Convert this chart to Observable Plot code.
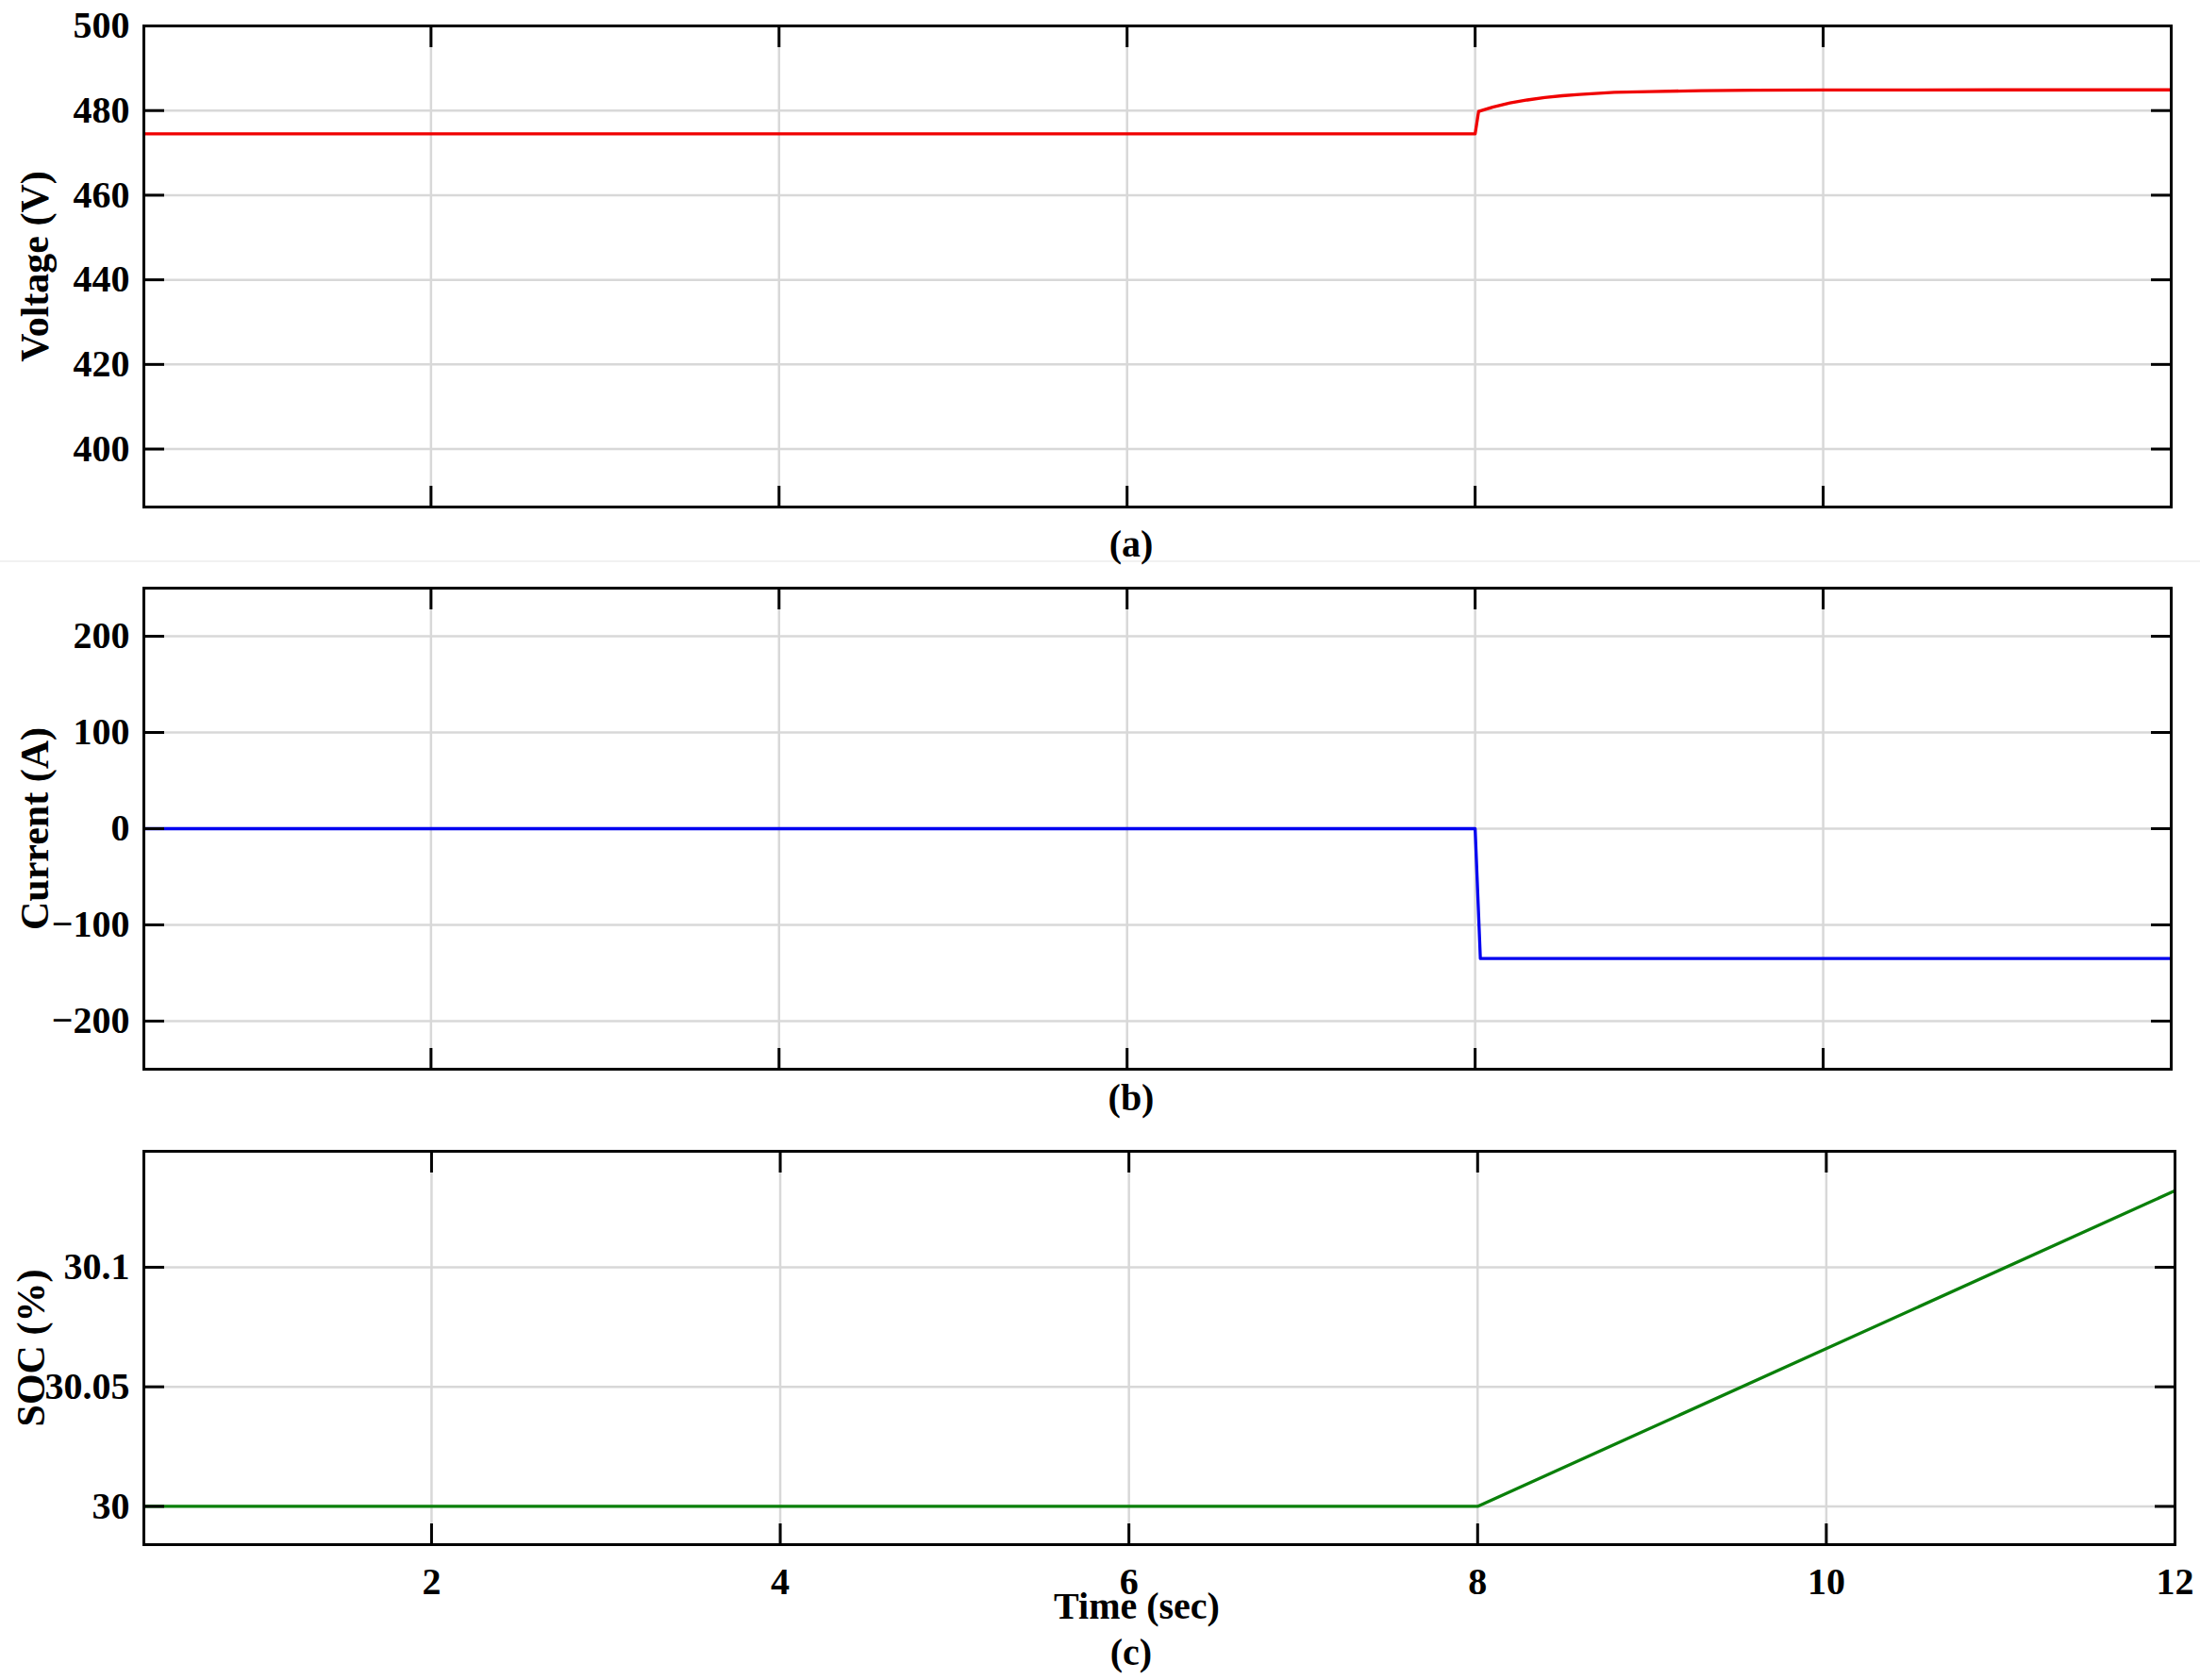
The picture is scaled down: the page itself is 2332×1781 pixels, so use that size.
<!DOCTYPE html>
<html>
<head>
<meta charset="utf-8">
<script src="https://cdn.jsdelivr.net/npm/d3@7"></script>
<script src="https://cdn.jsdelivr.net/npm/@observablehq/plot@0.6"></script>
<style>
  html, body { margin: 0; padding: 0; background: #fff; }
  #wrap { position: relative; width: 2332px; height: 1781px; overflow: hidden;
          font-family: "Liberation Serif", "Times New Roman", serif; font-weight: bold; color: #000; }
  .panel { position: absolute; left: 0; }
  .cap { position: absolute; transform: translate(-50%, -50%); font-size: 40px; white-space: nowrap; line-height: 1; }
  .sep { position: absolute; left: 0; width: 2332px; height: 2px; background: #f1f1f1; }
</style>
</head>
<body>
<div id="wrap"></div>
<script>
// ---- data ----
const xDomain = [0.35, 12];
const xTicks = [2, 4, 6, 8, 10, 12];

// (a) Voltage
const voltTime = [0.35, 7.99, 8.0, 8.02, 8.1, 8.2, 8.3, 8.4, 8.5, 8.6, 8.8, 9.0, 9.3, 9.6, 10.0, 11.0, 12.0];
const voltValue = [474.5, 474.5, 474.5, 479.8, 480.8, 481.8, 482.5, 483.1, 483.5, 483.8, 484.3, 484.5, 484.7, 484.8, 484.85, 484.9, 484.9];
const voltTicks = [400, 420, 440, 460, 480, 500];
const voltDomain = [386.3, 500];

// (b) Current
const currTime = [0.35, 8.0, 8.03, 12.0];
const currValue = [0, 0, -135, -135];
const currTicks = [-200, -100, 0, 100, 200];
const currDomain = [-250, 250];

// (c) SOC
const socTime = [0.35, 8.0, 12.0];
const socValue = [30, 30, 30.132];
const socTicks = [30, 30.05, 30.1];
const socDomain = [29.984, 30.1485];

const fmt = d => d < 0 ? "\u2212" + Math.abs(d) : String(d);

function panel({time, value, color, yDomain, yTicks, yLabel, labelDx, height, top, mt, mb, mr, xLabels}) {
  const data = time.map((t, i) => ({t, v: value[i]}));
  const tickStyle = {stroke: "black", strokeWidth: 3, fill: "none", label: null, tickSize: 22};
  const marks = [
    Plot.gridX(xTicks, {stroke: "#d8d8d8", strokeOpacity: 1, strokeWidth: 2.5}),
    Plot.gridY(yTicks, {stroke: "#d8d8d8", strokeOpacity: 1, strokeWidth: 2.5}),
    Plot.line(data, {x: "t", y: "v", stroke: color, strokeWidth: 3.3, clip: true}),
    Plot.axisY(yTicks, {...tickStyle, anchor: "left", dx: 22}),
    Plot.axisY(yTicks, {...tickStyle, anchor: "right", dx: -22}),
    Plot.axisX(xTicks, {...tickStyle, anchor: "top", dy: 22}),
    Plot.axisX(xTicks, {...tickStyle, anchor: "bottom", dy: -22}),
    Plot.axisY(yTicks, {anchor: "left", tickSize: 0, tickPadding: 15, label: null, tickFormat: fmt,
                        fontSize: 40, fontWeight: "bold", fill: "black"}),
    Plot.frame({stroke: "black", strokeWidth: 3}),
    Plot.text([yLabel], {text: d => d, frameAnchor: "left", dx: labelDx, rotate: -90, textAnchor: "middle",
                         lineAnchor: "middle", fontSize: 42, fontWeight: "bold", fill: "black"})
  ];
  if (xLabels) {
    marks.push(Plot.axisX(xTicks, {anchor: "bottom", tickSize: 0, tickPadding: 24, label: null, tickFormat: fmt,
                                   fontSize: 40, fontWeight: "bold", fill: "black"}));
  }
  const svg = Plot.plot({
    width: 2332, height,
    marginLeft: 152, marginRight: mr, marginTop: mt, marginBottom: mb,
    x: {domain: xDomain, axis: null},
    y: {domain: yDomain, axis: null},
    style: {fontFamily: "'Liberation Serif', 'Times New Roman', serif", fontSize: "40px", fontWeight: "bold", background: "white", color: "black", overflow: "visible"},
    marks
  });
  svg.classList.add("panel");
  svg.style.top = top + "px";
  return svg;
}

const wrap = document.getElementById("wrap");
wrap.appendChild(panel({time: voltTime, value: voltValue, color: "#f00000", yDomain: voltDomain, yTicks: voltTicks,
  yLabel: "Voltage (V)", labelDx: -115, height: 560, top: 0, mt: 27, mb: 23, mr: 31, xLabels: false}));
wrap.appendChild(panel({time: currTime, value: currValue, color: "#0000f0", yDomain: currDomain, yTicks: currTicks,
  yLabel: "Current (A)", labelDx: -115, height: 550, top: 600, mt: 23, mb: 17, mr: 31, xLabels: false}));
wrap.appendChild(panel({time: socTime, value: socValue, color: "#0a800a", yDomain: socDomain, yTicks: socTicks,
  yLabel: "SOC (%)", labelDx: -119, height: 581, top: 1200, mt: 20, mb: 144, mr: 27, xLabels: true}));

const sep = document.createElement("div");
sep.className = "sep"; sep.style.top = "594px";
wrap.appendChild(sep);

const captions = [
  {text: "(a)", x: 1199, y: 577},
  {text: "(b)", x: 1199, y: 1164},
  {text: "Time (sec)", x: 1205, y: 1703},
  {text: "(c)", x: 1199, y: 1752}
];
for (const c of captions) {
  const d = document.createElement("div");
  d.className = "cap";
  d.textContent = c.text;
  d.style.left = c.x + "px";
  d.style.top = c.y + "px";
  wrap.appendChild(d);
}
</script>
</body>
</html>
